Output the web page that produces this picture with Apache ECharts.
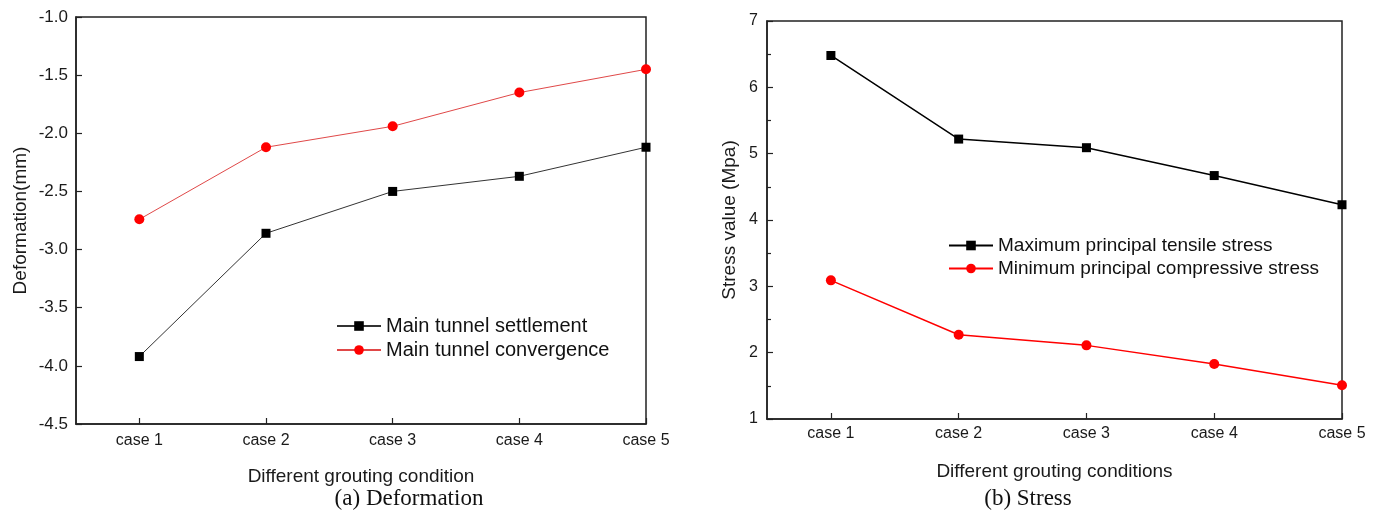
<!DOCTYPE html>
<html>
<head>
<meta charset="utf-8">
<script src="https://cdn.jsdelivr.net/npm/echarts@6/dist/echarts.min.js"></script>
<style>
  html, body { margin: 0; padding: 0; background: #fff; }
  #chart { width: 1381px; height: 513px; }
</style>
</head>
<body>
<div id="chart"></div>
<script>
// Grouting cases shared by both panels
const cases = ['case 1', 'case 2', 'case 3', 'case 4', 'case 5'];

// (a) Deformation, mm
const settlement = [-3.92, -2.86, -2.50, -2.37, -2.12];
const convergence = [-2.74, -2.12, -1.94, -1.65, -1.45];
const deformTicks = [-4.5, -4.0, -3.5, -3.0, -2.5, -2.0, -1.5, -1.0];

// (b) Stress, MPa
const tensile = [6.48, 5.22, 5.09, 4.67, 4.23];
const compressive = [3.09, 2.27, 2.11, 1.83, 1.51];
const stressTicks = [1, 2, 3, 4, 5, 6, 7];

const FONT = 'Liberation Sans, Arial, sans-serif';
const caseIdx = cases.map((c, i) => i + 1);
const toPoints = arr => arr.map((v, i) => [i + 1, v]);

const chart = echarts.init(document.getElementById('chart'));

function caseAxis(gridIndex, name, labelMargin, nameGap) {
  return {
    type: 'value', gridIndex: gridIndex,
    min: 0.5, max: 5, interval: 0.5,
    name: name, nameLocation: 'middle', nameGap: nameGap,
    nameTextStyle: { fontFamily: FONT, fontSize: 19, color: '#1a1a1a' },
    axisLine: { show: true, lineStyle: { color: '#222', width: 1.5 } },
    axisTick: { show: true, inside: true, length: 6, customValues: caseIdx,
                lineStyle: { color: '#222', width: 1.2 } },
    axisLabel: { show: true, customValues: caseIdx, margin: labelMargin,
                 fontFamily: FONT, fontSize: 16, color: '#1a1a1a',
                 formatter: v => cases[Math.round(v) - 1] },
    splitLine: { show: false }
  };
}

chart.setOption({
  animation: false,
  backgroundColor: '#fff',
  title: [
    { text: '(a) Deformation', left: 404, top: 482, textAlign: 'center',
      textStyle: { fontFamily: 'Liberation Serif, Times New Roman, serif', fontSize: 23, fontWeight: 'normal', color: '#111' } },
    { text: '(b) Stress', left: 1023, top: 482, textAlign: 'center',
      textStyle: { fontFamily: 'Liberation Serif, Times New Roman, serif', fontSize: 23, fontWeight: 'normal', color: '#111' } }
  ],
  grid: [
    { left: 76, top: 17, width: 570, height: 407, show: true,
      borderColor: '#222', borderWidth: 1.5, backgroundColor: 'transparent' },
    { left: 767, top: 21, width: 575, height: 398, show: true,
      borderColor: '#222', borderWidth: 1.5, backgroundColor: 'transparent' }
  ],
  legend: [
    { orient: 'vertical', left: 331, top: 311, itemWidth: 44, itemHeight: 12, itemGap: 4,
      data: ['Main tunnel settlement', 'Main tunnel convergence'],
      textStyle: { fontFamily: FONT, fontSize: 20, color: '#111' } },
    { orient: 'vertical', left: 943, top: 231, itemWidth: 44, itemHeight: 12, itemGap: 4,
      data: ['Maximum principal tensile stress', 'Minimum principal compressive stress'],
      textStyle: { fontFamily: FONT, fontSize: 19, color: '#111' } }
  ],
  xAxis: [
    caseAxis(0, 'Different grouting condition', 9, 43),
    caseAxis(1, 'Different grouting conditions', 7, 43)
  ],
  yAxis: [
    { type: 'value', gridIndex: 0, min: -4.5, max: -1.0, interval: 0.5,
      name: 'Deformation(mm)', nameLocation: 'middle', nameGap: 46,
      nameTextStyle: { fontFamily: FONT, fontSize: 19, color: '#1a1a1a' },
      axisLine: { show: true, lineStyle: { color: '#222', width: 1.5 } },
      axisTick: { show: true, inside: true, length: 6, lineStyle: { color: '#222', width: 1.2 } },
      axisLabel: { fontFamily: FONT, fontSize: 17, color: '#1a1a1a', margin: 8,
                   customValues: deformTicks, formatter: v => v.toFixed(1) },
      splitLine: { show: false } },
    { type: 'value', gridIndex: 1, min: 1, max: 7, interval: 1,
      name: 'Stress value (Mpa)', nameLocation: 'middle', nameGap: 28,
      nameTextStyle: { fontFamily: FONT, fontSize: 19, color: '#1a1a1a' },
      axisLine: { show: true, lineStyle: { color: '#222', width: 1.5 } },
      axisTick: { show: true, inside: true, length: 6, lineStyle: { color: '#222', width: 1.2 } },
      minorTick: { show: true, splitNumber: 2, length: 4, lineStyle: { color: '#222', width: 1.2 } },
      axisLabel: { fontFamily: FONT, fontSize: 16, color: '#1a1a1a', margin: 9,
                   customValues: stressTicks, formatter: v => String(v) },
      splitLine: { show: false } }
  ],
  series: [
    { name: 'Main tunnel settlement', type: 'line', xAxisIndex: 0, yAxisIndex: 0,
      data: toPoints(settlement), symbol: 'rect', symbolSize: 9,
      lineStyle: { color: '#333', width: 1 }, itemStyle: { color: '#000' } },
    { name: 'Main tunnel convergence', type: 'line', xAxisIndex: 0, yAxisIndex: 0,
      data: toPoints(convergence), symbol: 'circle', symbolSize: 10,
      lineStyle: { color: '#e04848', width: 1 }, itemStyle: { color: '#ff0000' } },
    { name: 'Maximum principal tensile stress', type: 'line', xAxisIndex: 1, yAxisIndex: 1,
      data: toPoints(tensile), symbol: 'rect', symbolSize: 9,
      lineStyle: { color: '#000', width: 1.5 }, itemStyle: { color: '#000' } },
    { name: 'Minimum principal compressive stress', type: 'line', xAxisIndex: 1, yAxisIndex: 1,
      data: toPoints(compressive), symbol: 'circle', symbolSize: 10,
      lineStyle: { color: '#ff0000', width: 1.5 }, itemStyle: { color: '#ff0000' } }
  ]
});
</script>
</body>
</html>
